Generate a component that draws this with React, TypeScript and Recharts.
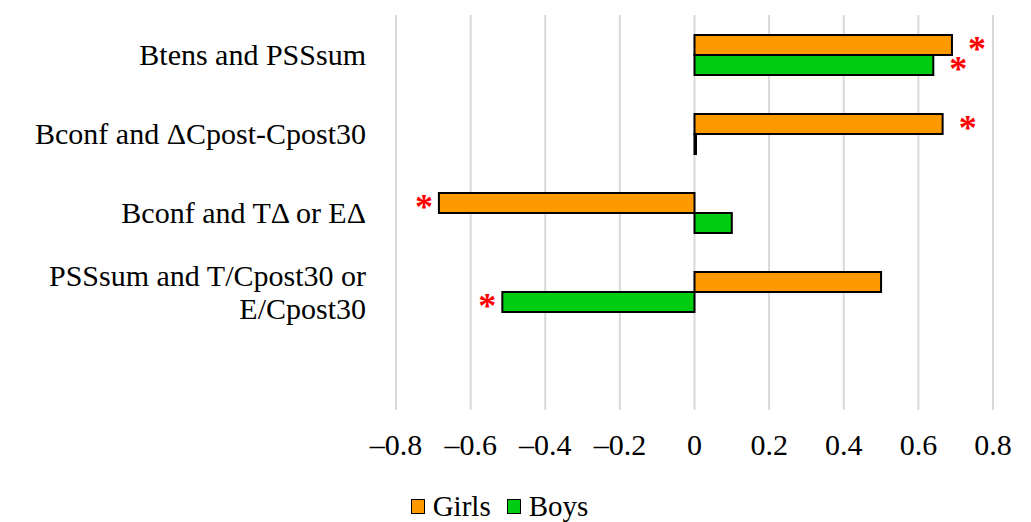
import React from 'react';
import {
  BarChart,
  Bar,
  XAxis,
  YAxis,
  CartesianGrid,
  Legend,
  LabelList,
} from 'recharts';

const categories = [
  'Btens and PSSsum',
  'Bconf and \u0394Cpost-Cpost30',
  'Bconf and T\u0394 or E\u0394',
  'PSSsum and T/Cpost30 or|E/Cpost30',
  '',
];
const girls = [0.69, 0.665, -0.685, 0.5, null];
const boys = [0.64, 0.004, 0.1, -0.515, null];
const girlsSig = [true, true, true, false, false];
const boysSig = [true, false, false, true, false];
const xTicks = [-0.8, -0.6, -0.4, -0.2, 0, 0.2, 0.4, 0.6, 0.8];

const data = categories.map((name, i) => ({ name, girls: girls[i], boys: boys[i] }));

const FONT = '"Times New Roman", "Liberation Serif", "Noto Serif", "DejaVu Serif", serif';
const ORANGE = '#FF9900';
const GREEN = '#00CC11';

const fmt = (v: number) => (v < 0 ? '\u2013' + Math.abs(v) : String(v));

const CategoryTick = (props: any) => {
  const { x, y, payload } = props;
  const lines = String(payload.value).split('|');
  const lh = 33;
  const start = y - ((lines.length - 1) * lh) / 2;
  return (
    <text x={x} y={start} textAnchor="end" style={{ fontFamily: FONT }} fontSize={30} fill="#000">
      {lines.map((l, i) => (
        <tspan key={i} x={x} y={start + i * lh} dy="0.35em">
          {l}
        </tspan>
      ))}
    </text>
  );
};

const ValueTick = (props: any) => {
  const { x, y, payload } = props;
  return (
    <text x={x} y={y} dy="0.8em" textAnchor="middle" style={{ fontFamily: FONT }} fontSize={30} fill="#000">
      {fmt(payload.value)}
    </text>
  );
};

const star = (sig: boolean[]) => (props: any) => {
  const { x, y, width, height, index } = props;
  if (!sig[index]) return null;
  const end = x + width;
  const cx = width >= 0 ? end + 25 : end - 15;
  return (
    <text x={cx} y={y + height / 2 + 16} textAnchor="middle" style={{ fontFamily: FONT }} fontSize={36} fontWeight="bold" fill="#FF0000">
      *
    </text>
  );
};

const LegendContent = () => (
  <div style={{ display: 'flex', justifyContent: 'center', fontFamily: FONT, fontSize: 29, marginLeft: 22, paddingTop: 6, lineHeight: '30px' }}>
    {[
      ['Girls', ORANGE],
      ['Boys', GREEN],
    ].map(([label, color]) => (
      <div key={label} style={{ display: 'flex', alignItems: 'center', marginRight: 16 }}>
        <span
          style={{ width: 12, height: 13, background: color, border: '1.5px solid #000', marginRight: 8, display: 'inline-block' }}
        />
        <span>{label}</span>
      </div>
    ))}
  </div>
);

export default function App() {
  return (
    <div style={{ position: 'absolute', left: 0, top: 0, background: '#fff' }}>
      <BarChart
        width={1031}
        height={522}
        data={data}
        layout="vertical"
        margin={{ top: 15, right: 38, left: 0, bottom: 0 }}
        barGap={0}
        barSize={20}
      >
        <CartesianGrid horizontal={false} stroke="#d9d9d9" strokeWidth={2} />
        <XAxis
          type="number"
          domain={[-0.8, 0.8]}
          ticks={xTicks}
          axisLine={false}
          tickLine={false}
          tick={<ValueTick />}
          height={75}
          tickMargin={15}
          allowDataOverflow
        />
        <YAxis
          type="category"
          dataKey="name"
          width={396}
          axisLine={false}
          tickLine={false}
          tick={<CategoryTick />}
          tickMargin={24}
          interval={0}
        />
        <Legend verticalAlign="bottom" height={37} content={<LegendContent />} />
        <Bar dataKey="girls" name="Girls" fill={ORANGE} stroke="#000" strokeWidth={2} isAnimationActive={false}>
          <LabelList dataKey="girls" content={star(girlsSig)} />
        </Bar>
        <Bar dataKey="boys" name="Boys" fill={GREEN} stroke="#000" strokeWidth={2} isAnimationActive={false}>
          <LabelList dataKey="boys" content={star(boysSig)} />
        </Bar>
      </BarChart>
    </div>
  );
}
